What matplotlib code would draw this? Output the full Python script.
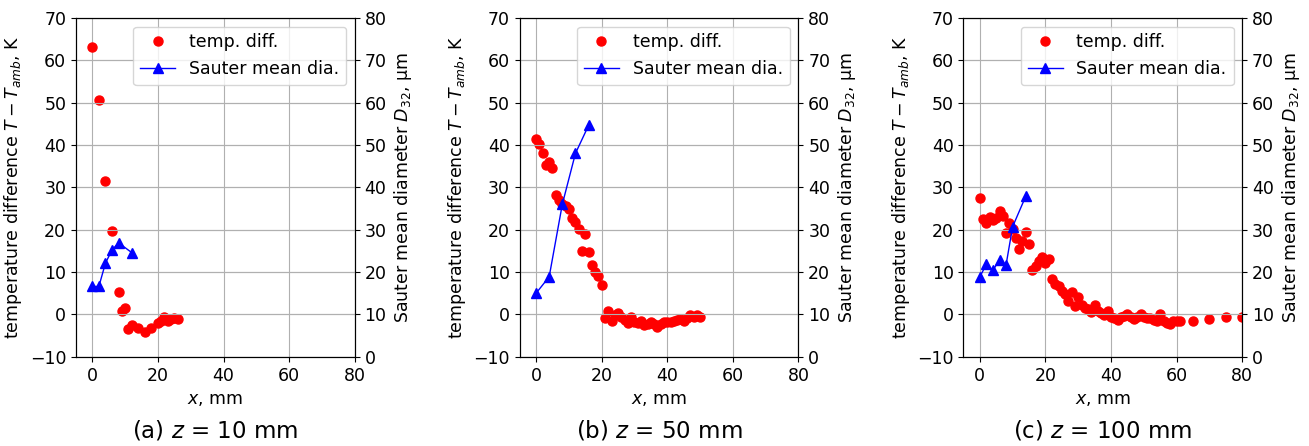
import matplotlib
matplotlib.use("Agg")
import matplotlib.pyplot as plt

# z = 10 mm
xa_t = [0, 2, 4, 6, 8, 9, 10, 11, 12, 14, 16, 18, 20, 21, 22, 23, 24, 25, 26]
ya_t = [63.1, 50.7, 31.5, 19.8, 5.3, 0.9, 1.4, -3.5, -2.4, -3.1, -4.2, -3.2, -2.1, -1.6, -0.7, -1.5, -1.1, -0.8, -1.1]
xa_d = [0, 2, 4, 6, 8, 12]
ya_d = [16.6, 16.6, 22.1, 25.2, 26.9, 24.6]

# z = 50 mm
xb_t = [0, 1, 2, 3, 4, 5, 6, 7, 8, 9, 10, 11, 12, 13, 14, 15, 16, 17, 18, 19, 20,
        21, 22, 23, 24, 25, 26, 27, 28, 29, 30, 31, 32, 33, 34, 35, 36, 37, 38, 39,
        40, 41, 42, 43, 44, 45, 46, 47, 48, 49, 50]
yb_t = [41.3, 40.2, 38.0, 35.2, 36.0, 34.6, 28.1, 27.1, 26.0, 25.6, 24.9, 22.8, 21.8, 20.2, 15.0,
        18.9, 14.7, 11.7, 10.1, 9.1, 6.9,
        -0.9, 0.9, -1.6, -0.2, 0.3, -0.5, -1.3, -2.0, -0.5, -1.9, -2.0, -1.6, -2.5, -2.3, -1.9,
        -2.3, -2.9, -2.3, -1.9, -1.9, -1.7, -1.5, -1.3, -1.1, -1.5, -0.9, -0.2, -0.7, -0.2, -0.7]
xb_d = [0, 4, 8, 12, 16]
yb_d = [15.0, 18.9, 36.0, 48.0, 54.6]

# z = 100 mm
xc_t = [0, 1, 2, 3, 4, 5, 6, 7, 8, 9, 10, 11, 12, 13, 14, 15, 16, 17, 18, 19, 20,
        21, 22, 23, 24, 25, 26, 27, 28, 29, 30, 31, 32, 33, 34, 35, 36, 37, 38, 39,
        40, 41, 42, 43, 44, 45, 46, 47, 48, 49, 50, 51, 52, 53, 54, 55, 56, 57, 58,
        59, 60, 61, 65, 70, 75, 80]
yc_t = [27.5, 22.6, 21.6, 23.0, 22.3, 22.8, 24.4, 23.2, 19.3, 21.6, 20.1, 18.1, 15.5, 17.3,
        19.5, 16.7, 10.4, 11.5, 12.6, 13.6, 12.2, 13.0, 8.3, 7.1, 6.7, 5.6, 4.8, 3.2, 5.3,
        2.0, 4.2, 2.3, 1.6, 1.3, 0.5, 2.2, 0.9, 0.3, -0.2, 0.9, -0.5, -0.9, -1.3, -0.5,
        -0.3, 0.1, -0.7, -1.1, -0.7, 0.1, -0.7, -0.9, -0.9, -1.3, -1.5, 0.1, -1.5, -2.0,
        -2.3, -1.5, -1.5, -1.6, -1.5, -1.1, -0.5, -0.5]
xc_d = [0, 2, 4, 6, 8, 10, 14]
yc_d = [18.9, 21.8, 20.4, 22.9, 21.7, 30.7, 37.9]

captions = ["(a) $z$ = 10 mm", "(b) $z$ = 50 mm", "(c) $z$ = 100 mm"]
panels = [(xa_t, ya_t, xa_d, ya_d), (xb_t, yb_t, xb_d, yb_d), (xc_t, yc_t, xc_d, yc_d)]
lefts = [0.058, 0.397, 0.736]

fs = 12.5
fig = plt.figure(figsize=(13.09, 4.46), dpi=100)

for left, cap, (xt, yt, xd, yd) in zip(lefts, captions, panels):
    ax = fig.add_axes([left, 0.200, 0.213, 0.760])
    ax2 = ax.twinx()
    l1, = ax.plot(xt, yt, 'o', color='red', markersize=6.5, label='temp. diff.')
    l2, = ax2.plot(xd, yd, '^-', color='blue', markersize=6.5, linewidth=1, label='Sauter mean dia.')
    ax.set_xlim(-5, 80)
    ax.set_ylim(-10, 70)
    ax2.set_ylim(0, 80)
    ax.set_xticks([0, 20, 40, 60, 80])
    ax.set_yticks(range(-10, 71, 10))
    ax2.set_yticks(range(0, 81, 10))
    ax.grid(True)
    ax2.grid(True)
    ax.tick_params(labelsize=fs)
    ax2.tick_params(labelsize=fs)
    ax.set_xlabel("$x$, mm", fontsize=fs)
    ax.set_ylabel("temperature difference $T-T_{amb}$, K", fontsize=fs)
    ax2.set_ylabel("Sauter mean diameter $D_{32}$, µm", fontsize=fs)
    ax2.legend([l1, l2], ['temp. diff.', 'Sauter mean dia.'], loc='upper right', fontsize=fs)
    fig.text(left + 0.1065, 0.02, cap, ha='center', fontsize=16.5)

fig.savefig("out.png", dpi=100)
